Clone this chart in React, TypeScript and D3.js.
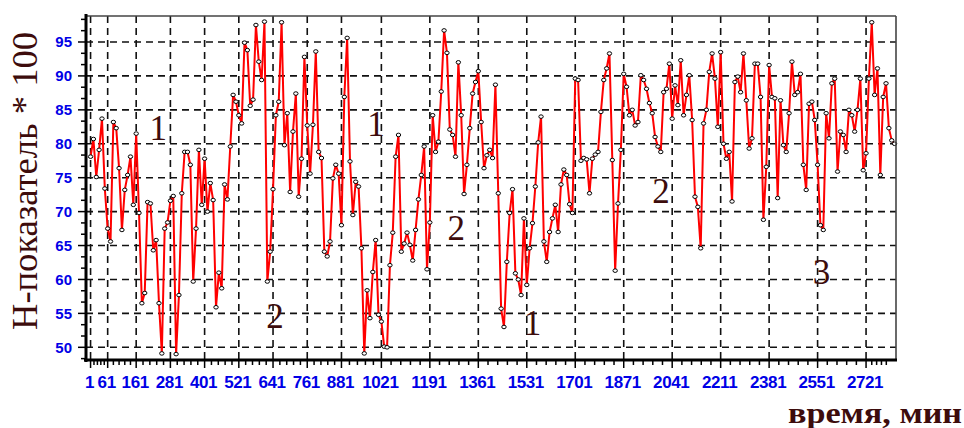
import React from "react";
import * as d3 from "d3";

// H-index * 100, one reading every 10 minutes starting at minute 1
const values: number[] = [
  78.1, 80.7, 75.1, 79.1, 83.7, 73.4, 67.5, 65.6, 83.2, 82.3,
  76.4, 67.3, 73.2, 75.4, 78.1, 71.0, 81.5, 69.8, 56.5, 58.0,
  71.4, 71.2, 64.3, 65.8, 56.5, 49.1, 67.5, 68.4, 71.6, 72.3,
  49.0, 57.7, 72.7, 78.8, 78.8, 76.9, 59.7, 67.5, 79.1, 71.0,
  77.8, 70.0, 74.2, 71.7, 55.9, 61.0, 58.7, 74.0, 71.8, 79.6,
  87.2, 86.2, 84.2, 83.0, 94.9, 93.8, 85.6, 86.5, 97.5, 92.1,
  89.4, 98.0, 59.7, 64.1, 73.3, 84.2, 86.2, 97.9, 79.8, 84.5,
  72.9, 81.8, 87.4, 72.2, 77.8, 92.8, 82.7, 75.6, 82.8, 93.6,
  78.8, 77.9, 64.1, 63.4, 65.6, 74.9, 76.9, 75.6, 68.0, 86.9,
  95.6, 77.4, 69.5, 74.4, 73.7, 64.6, 49.1, 58.4, 54.3, 61.1,
  65.8, 54.8, 53.8, 50.1, 50.0, 62.1, 66.9, 78.1, 81.3, 64.1,
  65.3, 66.9, 65.1, 62.8, 67.3, 71.8, 75.4, 79.6, 61.5, 68.4,
  84.2, 78.8, 80.3, 87.7, 96.7, 93.4, 82.1, 81.3, 78.1, 92.0,
  84.2, 72.6, 76.9, 82.3, 87.4, 89.1, 90.7, 83.2, 76.4, 78.3,
  79.1, 77.9, 88.7, 72.7, 55.7, 53.0, 62.6, 69.8, 73.3, 60.9,
  60.0, 57.7, 69.0, 59.2, 64.6, 68.3, 73.7, 80.2, 84.0, 65.6,
  62.6, 67.0, 69.0, 71.0, 67.0, 74.0, 76.2, 75.4, 71.1, 69.8,
  89.6, 89.4, 77.5, 77.9, 77.7, 72.7, 77.8, 78.4, 78.8, 84.7,
  89.4, 91.1, 93.3, 77.6, 61.3, 71.2, 79.1, 90.3, 88.4, 84.2,
  85.0, 82.7, 83.2, 90.1, 89.4, 88.1, 86.0, 84.5, 81.0, 79.6,
  78.8, 87.6, 88.1, 91.8, 83.7, 88.6, 85.7, 92.3, 84.2, 87.2,
  90.1, 83.5, 72.2, 70.7, 64.6, 83.0, 85.0, 90.6, 93.3, 89.6,
  82.5, 93.5, 80.0, 77.8, 78.8, 71.5, 89.1, 89.9, 87.6, 93.3,
  86.4, 79.3, 80.8, 91.8, 91.8, 86.9, 68.8, 76.6, 91.6, 86.9,
  86.7, 72.0, 86.4, 79.8, 78.8, 84.5, 92.1, 87.2, 87.6, 90.3,
  76.9, 73.2, 85.9, 86.2, 83.5, 76.9, 68.0, 67.3, 84.5, 80.8,
  88.9, 89.6, 75.9, 81.8, 81.3, 78.8, 85.0, 84.2, 81.8, 85.0,
  89.6, 76.1, 78.6, 89.6, 97.9, 87.2, 91.1, 75.4, 86.9, 88.9,
  82.3, 80.5, 80.0,
];
const timeStart = 1;
const timeStep = 10;

const xTickValues: number[] = [
  1, 61, 161, 281, 401, 521, 641, 761, 881, 1021, 1191, 1361, 1531, 1701,
  1871, 2041, 2211, 2381, 2551, 2721,
];
const xTailMinor: number[] = [2741, 2758, 2775, 2792];
const yTickValues: number[] = [50, 55, 60, 65, 70, 75, 80, 85, 90, 95];

const annotationLabels: string[] = ["1", "2", "1", "2", "1", "2", "3"];
const annotationTimes: number[] = [238, 648, 1002, 1284, 1551, 2002, 2565];
const annotationValues: number[] = [80.6, 52.85, 81.1, 65.8, 51.8, 71.3, 59.3];

const yTitle = "Н-показатель * 100";
const xTitle = "время, мин";

const W = 964;
const H = 428;
const L = 86;
const R = 896;
const T = 16;
const B = 360;

const labelBlue = "#0000e6";
const titleColor = "#3d0c0c";

export default function App() {
  const x = d3.scaleLinear().domain([-15, 2826]).range([L, R]);
  const y = d3.scaleLinear().domain([48.13, 98.83]).range([B, T]);

  const data = values.map((v, i) => ({ t: timeStart + timeStep * i, v }));
  const line = d3
    .line<{ t: number; v: number }>()
    .x((d) => x(d.t))
    .y((d) => y(d.v));

  const minorX: number[] = [];
  for (let i = 0; i < xTickValues.length - 1; i++) {
    const a = xTickValues[i];
    const b = xTickValues[i + 1];
    for (let j = 1; j < 5; j++) minorX.push(a + ((b - a) * j) / 5);
  }
  xTailMinor.forEach((t) => minorX.push(t));

  const minorY: number[] = [];
  const yStep = 5 / 3;
  for (let v = 50 - yStep; v < 98.83; v += yStep) {
    if (Math.abs((v - 50) / 5 - Math.round((v - 50) / 5)) > 0.01) minorY.push(v);
  }

  return (
    <svg
      width={W}
      height={H}
      viewBox={`0 0 ${W} ${H}`}
      style={{ position: "absolute", left: 0, top: 0, background: "#fff" }}
    >
      <rect x={0} y={0} width={W} height={H} fill="#fff" />

      {/* grid */}
      <g stroke="#111" strokeWidth={1.6} strokeDasharray="7,5" fill="none">
        {yTickValues.map((v) => (
          <line key={"gy" + v} x1={L} x2={R} y1={y(v)} y2={y(v)} />
        ))}
        {xTickValues.map((t) => (
          <line key={"gx" + t} x1={x(t)} x2={x(t)} y1={T} y2={B} />
        ))}
      </g>

      {/* series */}
      <path d={line(data) || ""} fill="none" stroke="#ff0000" strokeWidth={2} strokeLinejoin="round" />
      <g fill="#fff" stroke="#000" strokeWidth={1}>
        {data.map((d, i) => (
          <ellipse key={"m" + i} cx={x(d.t)} cy={y(d.v)} rx={2.2} ry={1.8} />
        ))}
      </g>

      {/* frame */}
      <line x1={L} x2={R} y1={T} y2={T} stroke="#444" strokeWidth={1.6} />
      <line x1={R} x2={R} y1={T} y2={B} stroke="#444" strokeWidth={1.6} />
      <line x1={L} x2={L} y1={T - 2} y2={B + 2} stroke="#000" strokeWidth={3} />
      <line x1={L - 2} x2={R + 1} y1={B} y2={B} stroke="#000" strokeWidth={3} />

      {/* ticks */}
      <g stroke="#000" strokeWidth={1.5}>
        {yTickValues.map((v) => (
          <line key={"ty" + v} x1={L - 8} x2={L} y1={y(v)} y2={y(v)} />
        ))}
        {minorY.map((v, i) => (
          <line key={"tmy" + i} x1={L - 5} x2={L} y1={y(v)} y2={y(v)} />
        ))}
        {xTickValues.map((t) => (
          <line key={"tx" + t} x1={x(t)} x2={x(t)} y1={B} y2={B + 8} />
        ))}
        {minorX.map((t, i) => (
          <line key={"tmx" + i} x1={x(t)} x2={x(t)} y1={B} y2={B + 5} />
        ))}
      </g>

      {/* tick labels */}
      <g
        fill={labelBlue}
        fontFamily="'Liberation Sans', Arial, sans-serif"
        fontWeight="bold"
      >
        {yTickValues.map((v) => (
          <text key={"ly" + v} x={72} y={y(v) + 5.3} fontSize={15} textAnchor="end">
            {v}
          </text>
        ))}
        {xTickValues.map((t) => (
          <text
            key={"lx" + t}
            x={x(t) - 1}
            y={388}
            fontSize={17}
            letterSpacing={-0.4}
            textAnchor="middle"
          >
            {t}
          </text>
        ))}
      </g>

      {/* annotations */}
      <g fill={titleColor} fontFamily="'Liberation Serif', 'Times New Roman', serif" fontSize={35}>
        {annotationLabels.map((s, i) => (
          <text key={"a" + i} x={x(annotationTimes[i])} y={y(annotationValues[i])} textAnchor="middle">
            {s}
          </text>
        ))}
      </g>

      {/* axis titles */}
      <text
        transform="translate(37,330) rotate(-90)"
        fill={titleColor}
        fontFamily="'Liberation Serif', 'Times New Roman', serif"
        fontSize={36}
        textLength={298}
        lengthAdjust="spacingAndGlyphs"
      >
        {yTitle}
      </text>
      <text
        x={788}
        y={423}
        fill={titleColor}
        fontFamily="'Liberation Serif', 'Times New Roman', serif"
        fontWeight="bold"
        fontSize={30}
        textLength={174}
        lengthAdjust="spacingAndGlyphs"
      >
        {xTitle}
      </text>
    </svg>
  );
}
